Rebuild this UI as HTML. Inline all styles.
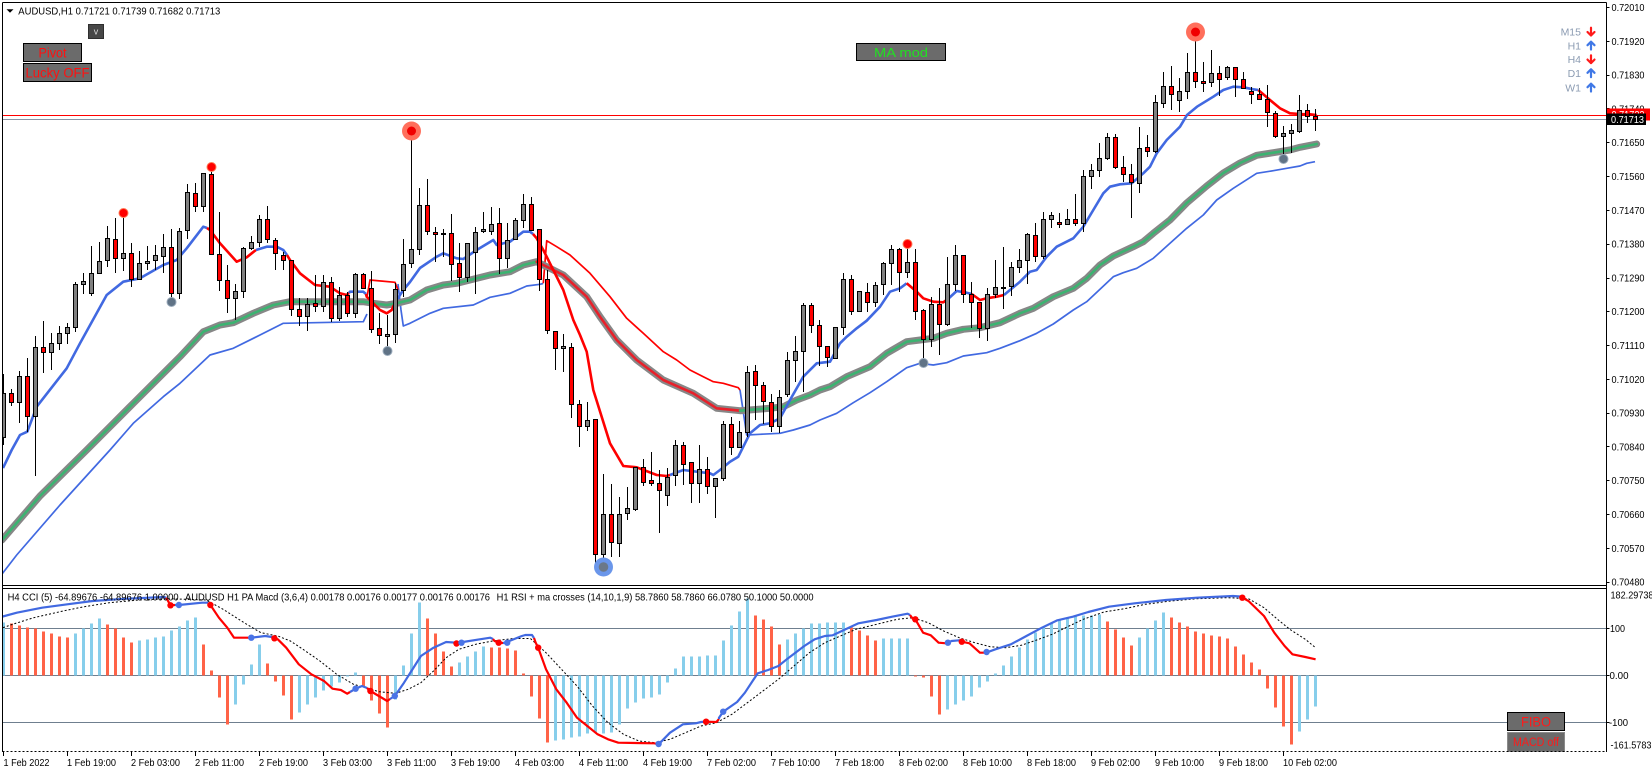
<!DOCTYPE html>
<html><head><meta charset="utf-8"><style>
html,body{margin:0;padding:0;background:#fff;}
svg{display:block;font-family:"Liberation Sans",Arial,sans-serif;}
</style></head><body>
<svg width="1652" height="773" viewBox="0 0 1652 773" xmlns="http://www.w3.org/2000/svg">
<defs>
<clipPath id="cm"><rect x="3" y="3" width="1603" height="582"/></clipPath>
<clipPath id="cs"><rect x="3" y="589" width="1603" height="162"/></clipPath>
</defs>
<rect width="1652" height="773" fill="#fff"/>

<!-- ========== MAIN CHART ========== -->
<g clip-path="url(#cm)">
<!-- bid/ask lines -->
<line x1="3" y1="115.5" x2="1606" y2="115.5" stroke="#ff0000" stroke-width="1"/>
<line x1="3" y1="119.5" x2="1606" y2="119.5" stroke="#8795a5" stroke-width="1"/>

<!-- thin lower blue band -->
<g fill="none" stroke="#4169e1" stroke-width="1.7" stroke-linejoin="round">
<polyline points="2,574 16.7,555 60,505 110,450 133.3,423.3 163.3,396.7 180,383.3 210,355 233.3,348.3 260,335 283.3,323.3 363.3,321.7 367,314"/>
<polyline points="398,284 401,310 403.3,326 410,323.3 430,313.3 443.3,308.3 473.3,305 490,297.3 510,293.3 526.7,286 540,284.3 543,283.5"/>
<polyline points="740,390 743,410 746.7,435 760,434.3 780,433.3 793.3,430 810,425 820,420 836.7,413.3 853.3,402.7 870,392.7 886.7,381.7 906.7,367.7 920,363.3 933.3,365 946.7,362.7 963.3,356 986.7,352.7 1000,348.3 1020,340.7 1036.7,333.3 1053.3,324 1073.3,310 1086.7,301.7 1100,289.3 1113.3,276.7 1123.3,272.7 1136.7,268.3 1153.3,258.3 1170,243.3 1186.7,228.3 1203.3,215 1216.7,200 1233.3,188.3 1256.7,173.3 1273.3,170.7 1286.7,168.3 1300,166 1306.7,163.3 1315,161.7"/>
</g>
<!-- thin upper red band -->
<g fill="none" stroke="#ff0000" stroke-width="1.7" stroke-linejoin="round">
<polyline points="367,297 370,280 395,282.3 398,290"/>
<polyline points="543.3,283.3 546.7,240.7 556.7,246.7 570,255 590,273.3 610,296.7 626.7,318.3 643.3,333.3 663.3,351.7 676.7,360 690,370 703.3,376.7 713.3,381.7 723.3,383.3 738.3,387.7 740,390"/>
</g>

<!-- thick MA -->
<g fill="none" stroke-linejoin="round" stroke-linecap="round">
<polyline stroke="#878787" stroke-width="7" points="2,540 40,496 86.7,450 110,426.7 133.3,403.3 166.7,370 180,356.7 203.3,331.7 220,325 233.3,322.7 253.3,313.3 273.3,305 290,301.7 333.3,301.7 363.3,301.7 373.3,303.3 386.7,305 396.7,303.3 410,300 426.7,290 443.3,285 456.7,283.3 470,280 490,275 510,271.7 523.3,265 536.7,261.7 543.3,265 563.3,275 586.7,296.7 600,316.7 616.7,340 636.7,360 663.3,380 693.3,393.3 716.7,408.3 740,410.7 770,408.3 783.3,406.7 796.7,400 810,395 820,390 830,386.7 846.7,376.7 870,366.7 886.7,353.3 906.7,341.7 920,340 933.3,338.3 946.7,333.3 963.3,329.3 980,327.7 1000,322.7 1020,313.3 1033.3,308.3 1053.3,296.7 1073.3,288.3 1086.7,278.3 1100,265 1113.3,256 1133.3,246.7 1143.3,241.7 1153.3,233.3 1170,220 1186.7,203 1206.7,186 1223.3,173 1240,163 1256.7,155.3 1273.3,152.7 1290,150 1300,147.3 1316.7,144"/>
<polyline stroke="#3cb371" stroke-width="2.6" points="2,540 40,496 86.7,450 110,426.7 133.3,403.3 166.7,370 180,356.7 203.3,331.7 220,325 233.3,322.7 253.3,313.3 273.3,305 290,301.7 333.3,301.7 363.3,301.7 373.3,303.3 386.7,305 396.7,303.3 410,300 426.7,290 443.3,285 456.7,283.3 470,280 490,275 510,271.7 523.3,265 536.7,261.7"/>
<polyline stroke="#e8202a" stroke-width="2.6" points="536.7,261.7 543.3,265 563.3,275 586.7,296.7 600,316.7 616.7,340 636.7,360 663.3,380 693.3,393.3 716.7,408.3 740,410.7"/>
<polyline stroke="#3cb371" stroke-width="2.6" points="740,410.7 770,408.3 783.3,406.7 796.7,400 810,395 820,390 830,386.7 846.7,376.7 870,366.7 886.7,353.3 906.7,341.7 920,340 933.3,338.3 946.7,333.3 963.3,329.3 980,327.7 1000,322.7 1020,313.3 1033.3,308.3 1053.3,296.7 1073.3,288.3 1086.7,278.3 1100,265 1113.3,256 1133.3,246.7 1143.3,241.7 1153.3,233.3 1170,220 1186.7,203 1206.7,186 1223.3,173 1240,163 1256.7,155.3 1273.3,152.7 1290,150 1300,147.3 1316.7,144"/>
</g>

<!-- fast line -->
<g fill="none" stroke-width="2.6" stroke-linejoin="round">
<polyline stroke="#4169e1" points="3,468 11.7,450 20,435 27.3,431.7 36.7,406.7 66.7,368.3 80,343.3 106.7,295 123.3,281.7 140,278.3 163.3,265 176.7,260 186.7,248.3 203.3,226.7 207,228"/>
<polyline stroke="#ff0000" points="207,228 210,230 220,243.3 236.7,261.7 246.7,257.3 251.7,253.3 256,250"/>
<polyline stroke="#4169e1" points="256,250 266.7,246.7 276.7,246.7 283.3,250 287,255"/>
<polyline stroke="#ff0000" points="287,255 290,260 300,273.3 315,285 330,286.7 340,293.3 346.7,295 349,293"/>
<polyline stroke="#4169e1" points="349,293 350,291.7 363.3,291.7 366,294"/>
<polyline stroke="#ff0000" points="366,294 366.7,296.7 380,310 386.7,313.3 391.7,310 394,305"/>
<polyline stroke="#4169e1" points="394,305 396.7,300 403.3,290 410,282 420,268 436.7,256.7 443.3,253.3 456.7,258.3 463.3,259 476.7,250 493.3,240 496.7,245 510,241.7 523.3,231.7 530,231.7 533,234"/>
<polyline stroke="#ff0000" points="533,234 536.7,238.3 543.3,250 553.3,270 563.3,290 573.3,320 580,335 586.7,351.7 593.3,390 610,443.3 623.3,466 636.7,467.3 656.7,475 666.7,476 670,475"/>
<polyline stroke="#4169e1" points="670,475 683.3,470 710,473.3 713.3,475 720,470 730,461.7 738.3,456.7 743.3,446.7 750,433.3 760,425 770,423.3 780,418.3 790,400 803.3,376.7 816.7,363.3 830,361.7 840,343.3 846.7,336.7 856.7,328.3 866.7,320.7 880,306.7 890,291.7 900,288.3 906.7,283.3"/>
<polyline stroke="#ff0000" points="906.7,283.3 916.7,291.7 923.3,298.3 933.3,301.7 943.3,302.3 948,299"/>
<polyline stroke="#4169e1" points="948,299 956.7,291 966.7,292.7 971.7,294"/>
<polyline stroke="#ff0000" points="971.7,294 980,300 986.7,298.3 996.7,296.7 1004,295"/>
<polyline stroke="#4169e1" points="1004,295 1020,281.7 1030,271.7 1036.7,270 1046.7,256.7 1056.7,246.7 1073.3,238.3 1083.3,226.7 1093.3,210 1103.3,193.3 1110,186.7 1120,184.3 1131.7,183.3 1143.3,173.3 1150,166.7 1156.7,153.3 1166.7,140 1180,126.7 1187,115 1197,106.7 1213.3,96.7 1223.3,90 1233.3,86.7 1243.3,87.3 1253.3,89.3 1258.3,90"/>
<polyline stroke="#ff0000" points="1258.3,90 1270,100 1280,108.3 1290,113.3 1300,114 1310,114.3 1316.7,115"/>
</g>

<!-- wicks -->
<path fill="none" stroke="#000" stroke-width="1" d="M3.5 374V445M11.5 389V406M19.5 371V423M27.5 358V432M35.5 336V476M43.5 321V373M51.5 333V370M59.5 326V350M67.5 323V344M75.5 282V332M83.5 273V294M91.5 246V296M99.5 242V273M107.5 226V267M115.5 218V273M123.5 213V271M131.5 243V287M139.5 251V279M147.5 246V270M155.5 245V270M163.5 234V273M171.5 229V298M179.5 228V299M187.5 184V239M195.5 183V212M203.5 173V212M211.5 167V254M219.5 212V291M227.5 265V313M235.5 284V320M243.5 247V298M251.5 236V250M259.5 215V247M267.5 206V243M275.5 238V270M283.5 252V270M291.5 260V316M299.5 298V326M307.5 298V331M315.5 275V312M323.5 275V312M331.5 277V322M339.5 287V321M347.5 292V317M355.5 273V318M363.5 273V289M371.5 271V333M379.5 313V344M387.5 315V347M395.5 283V343M403.5 239V297M411.5 131V268M419.5 188V255M427.5 179V235M435.5 227V262M443.5 229V257M451.5 214V281M459.5 243V292M467.5 243V282M475.5 227V294M483.5 212V233M491.5 207V235M499.5 208V274M507.5 223V268M515.5 218V240M523.5 194V228M531.5 197V231M539.5 229V291M547.5 270V334M555.5 331V370M563.5 334V372M571.5 343V418M579.5 400V447M587.5 402V431M595.5 419V563M603.5 474V568M611.5 484V557M619.5 497V557M627.5 487V520M635.5 467V511M643.5 459V486M651.5 452V486M659.5 470V533M667.5 468V506M675.5 440V486M683.5 442V485M691.5 462V503M699.5 445V503M707.5 457V494M715.5 478V518M723.5 421V481M731.5 417V455M739.5 421V448M747.5 366V437M755.5 365V420M763.5 382V424M771.5 394V432M779.5 390V433M787.5 352V397M795.5 336V382M803.5 303V392M811.5 303V333M819.5 320V366M827.5 346V367M835.5 327V359M843.5 273V335M851.5 275V315M859.5 291V312M867.5 283V312M875.5 282V307M883.5 262V295M891.5 245V285M899.5 248V292M907.5 244V278M915.5 249V320M923.5 309V363M931.5 297V347M939.5 288V355M947.5 257V326M955.5 245V291M963.5 255V303M971.5 282V328M979.5 302V338M987.5 288V341M995.5 260V298M1003.5 247V309M1011.5 262V296M1019.5 249V273M1027.5 233V284M1035.5 223V262M1043.5 212V259M1051.5 212V228M1059.5 213V228M1067.5 209V224M1075.5 194V226M1083.5 170V232M1091.5 164V189M1099.5 143V177M1107.5 133V160M1115.5 134V169M1123.5 156V182M1131.5 164V218M1139.5 127V193M1147.5 135V157M1155.5 95V153M1163.5 72V108M1171.5 66V110M1179.5 78V112M1187.5 53V99M1195.5 32V88M1203.5 62V92M1211.5 50V87M1219.5 66V96M1227.5 66V80M1235.5 67V97M1243.5 72V88M1251.5 87V104M1259.5 88V100M1267.5 85V127M1275.5 111V138M1283.5 126V158M1291.5 124V153M1299.5 95V133M1307.5 104V123M1315.5 109V131"/>

<!-- bull bodies -->
<g fill="#808080" stroke="#000" stroke-width="1">
<rect x="1.5" y="393.5" width="4" height="44"/><rect x="17.5" y="376.5" width="4" height="26"/><rect x="33.5" y="347.5" width="4" height="69"/><rect x="49.5" y="343.5" width="4" height="9"/><rect x="57.5" y="333.5" width="4" height="10"/><rect x="65.5" y="327.5" width="4" height="6"/><rect x="73.5" y="284.5" width="4" height="43"/><rect x="81.5" y="281.5" width="4" height="3"/><rect x="89.5" y="273.5" width="4" height="20"/><rect x="97.5" y="261.5" width="4" height="12"/><rect x="105.5" y="238.5" width="4" height="22"/><rect x="121.5" y="253.5" width="4" height="5"/><rect x="137.5" y="263.5" width="4" height="16"/><rect x="145.5" y="261.5" width="4" height="2"/><rect x="153.5" y="255.5" width="4" height="5"/><rect x="161.5" y="247.5" width="4" height="9"/><rect x="177.5" y="231.5" width="4" height="62"/><rect x="185.5" y="192.5" width="4" height="38"/><rect x="201.5" y="173.5" width="4" height="33"/><rect x="233.5" y="291.5" width="4" height="7"/><rect x="241.5" y="248.5" width="4" height="43"/><rect x="249.5" y="242.5" width="4" height="6"/><rect x="257.5" y="219.5" width="4" height="23"/><rect x="305.5" y="304.5" width="4" height="12"/><rect x="321.5" y="282.5" width="4" height="24"/><rect x="337.5" y="295.5" width="4" height="23"/><rect x="353.5" y="274.5" width="4" height="39"/><rect x="385.5" y="334.5" width="4" height="2"/><rect x="393.5" y="289.5" width="4" height="45"/><rect x="401.5" y="264.5" width="4" height="26"/><rect x="409.5" y="249.5" width="4" height="14"/><rect x="417.5" y="205.5" width="4" height="44"/><rect x="441.5" y="233.5" width="4" height="1"/><rect x="465.5" y="243.5" width="4" height="34"/><rect x="473.5" y="232.5" width="4" height="20"/><rect x="481.5" y="229.5" width="4" height="2"/><rect x="489.5" y="224.5" width="4" height="7"/><rect x="505.5" y="240.5" width="4" height="18"/><rect x="513.5" y="220.5" width="4" height="19"/><rect x="521.5" y="204.5" width="4" height="16"/><rect x="561.5" y="346.5" width="4" height="2"/><rect x="585.5" y="420.5" width="4" height="6"/><rect x="601.5" y="514.5" width="4" height="40"/><rect x="617.5" y="514.5" width="4" height="29"/><rect x="625.5" y="508.5" width="4" height="5"/><rect x="633.5" y="467.5" width="4" height="42"/><rect x="665.5" y="477.5" width="4" height="18"/><rect x="673.5" y="445.5" width="4" height="30"/><rect x="697.5" y="469.5" width="4" height="14"/><rect x="713.5" y="478.5" width="4" height="8"/><rect x="721.5" y="424.5" width="4" height="54"/><rect x="737.5" y="432.5" width="4" height="15"/><rect x="745.5" y="372.5" width="4" height="60"/><rect x="777.5" y="397.5" width="4" height="29"/><rect x="785.5" y="360.5" width="4" height="34"/><rect x="793.5" y="351.5" width="4" height="9"/><rect x="801.5" y="305.5" width="4" height="46"/><rect x="833.5" y="327.5" width="4" height="31"/><rect x="841.5" y="279.5" width="4" height="48"/><rect x="857.5" y="291.5" width="4" height="20"/><rect x="873.5" y="285.5" width="4" height="17"/><rect x="881.5" y="263.5" width="4" height="21"/><rect x="889.5" y="249.5" width="4" height="14"/><rect x="905.5" y="262.5" width="4" height="10"/><rect x="929.5" y="304.5" width="4" height="35"/><rect x="945.5" y="284.5" width="4" height="40"/><rect x="953.5" y="255.5" width="4" height="29"/><rect x="985.5" y="294.5" width="4" height="34"/><rect x="993.5" y="287.5" width="4" height="7"/><rect x="1001.5" y="287.5" width="4" height="1"/><rect x="1009.5" y="267.5" width="4" height="19"/><rect x="1017.5" y="260.5" width="4" height="7"/><rect x="1025.5" y="234.5" width="4" height="26"/><rect x="1041.5" y="219.5" width="4" height="37"/><rect x="1049.5" y="215.5" width="4" height="4"/><rect x="1065.5" y="219.5" width="4" height="5"/><rect x="1081.5" y="176.5" width="4" height="47"/><rect x="1089.5" y="170.5" width="4" height="6"/><rect x="1097.5" y="158.5" width="4" height="12"/><rect x="1105.5" y="137.5" width="4" height="21"/><rect x="1137.5" y="148.5" width="4" height="35"/><rect x="1153.5" y="102.5" width="4" height="49"/><rect x="1161.5" y="86.5" width="4" height="17"/><rect x="1177.5" y="91.5" width="4" height="9"/><rect x="1185.5" y="72.5" width="4" height="19"/><rect x="1209.5" y="73.5" width="4" height="9"/><rect x="1225.5" y="67.5" width="4" height="10"/><rect x="1281.5" y="133.5" width="4" height="3"/><rect x="1289.5" y="130.5" width="4" height="3"/><rect x="1297.5" y="110.5" width="4" height="21"/>
</g>
<!-- bear bodies -->
<g fill="#ff0000" stroke="#000" stroke-width="1">
<rect x="9.5" y="393.5" width="4" height="9"/><rect x="25.5" y="376.5" width="4" height="40"/><rect x="41.5" y="347.5" width="4" height="5"/><rect x="113.5" y="239.5" width="4" height="19"/><rect x="129.5" y="253.5" width="4" height="26"/><rect x="169.5" y="247.5" width="4" height="46"/><rect x="193.5" y="193.5" width="4" height="13"/><rect x="209.5" y="174.5" width="4" height="80"/><rect x="217.5" y="254.5" width="4" height="26"/><rect x="225.5" y="280.5" width="4" height="18"/><rect x="265.5" y="219.5" width="4" height="20"/><rect x="273.5" y="240.5" width="4" height="13"/><rect x="281.5" y="255.5" width="4" height="5"/><rect x="289.5" y="260.5" width="4" height="49"/><rect x="297.5" y="309.5" width="4" height="7"/><rect x="313.5" y="303.5" width="4" height="3"/><rect x="329.5" y="282.5" width="4" height="36"/><rect x="345.5" y="295.5" width="4" height="18"/><rect x="361.5" y="274.5" width="4" height="14"/><rect x="369.5" y="288.5" width="4" height="41"/><rect x="377.5" y="328.5" width="4" height="7"/><rect x="425.5" y="205.5" width="4" height="26"/><rect x="433.5" y="232.5" width="4" height="2"/><rect x="449.5" y="233.5" width="4" height="31"/><rect x="457.5" y="263.5" width="4" height="14"/><rect x="497.5" y="223.5" width="4" height="35"/><rect x="529.5" y="204.5" width="4" height="26"/><rect x="537.5" y="229.5" width="4" height="50"/><rect x="545.5" y="279.5" width="4" height="51"/><rect x="553.5" y="331.5" width="4" height="17"/><rect x="569.5" y="347.5" width="4" height="57"/><rect x="577.5" y="404.5" width="4" height="22"/><rect x="593.5" y="419.5" width="4" height="135"/><rect x="609.5" y="514.5" width="4" height="28"/><rect x="641.5" y="467.5" width="4" height="15"/><rect x="649.5" y="480.5" width="4" height="3"/><rect x="657.5" y="483.5" width="4" height="7"/><rect x="681.5" y="445.5" width="4" height="19"/><rect x="689.5" y="462.5" width="4" height="21"/><rect x="705.5" y="469.5" width="4" height="17"/><rect x="729.5" y="424.5" width="4" height="23"/><rect x="753.5" y="371.5" width="4" height="14"/><rect x="761.5" y="385.5" width="4" height="16"/><rect x="769.5" y="402.5" width="4" height="24"/><rect x="809.5" y="305.5" width="4" height="20"/><rect x="817.5" y="325.5" width="4" height="21"/><rect x="825.5" y="346.5" width="4" height="11"/><rect x="849.5" y="279.5" width="4" height="32"/><rect x="865.5" y="292.5" width="4" height="10"/><rect x="897.5" y="249.5" width="4" height="23"/><rect x="913.5" y="262.5" width="4" height="49"/><rect x="921.5" y="310.5" width="4" height="29"/><rect x="937.5" y="304.5" width="4" height="20"/><rect x="961.5" y="255.5" width="4" height="39"/><rect x="969.5" y="294.5" width="4" height="8"/><rect x="977.5" y="302.5" width="4" height="26"/><rect x="1033.5" y="235.5" width="4" height="21"/><rect x="1057.5" y="222.5" width="4" height="2"/><rect x="1073.5" y="219.5" width="4" height="4"/><rect x="1113.5" y="137.5" width="4" height="30"/><rect x="1121.5" y="167.5" width="4" height="7"/><rect x="1129.5" y="174.5" width="4" height="8"/><rect x="1145.5" y="147.5" width="4" height="4"/><rect x="1169.5" y="86.5" width="4" height="8"/><rect x="1193.5" y="72.5" width="4" height="9"/><rect x="1201.5" y="81.5" width="4" height="2"/><rect x="1217.5" y="73.5" width="4" height="6"/><rect x="1233.5" y="67.5" width="4" height="12"/><rect x="1241.5" y="79.5" width="4" height="9"/><rect x="1249.5" y="91.5" width="4" height="3"/><rect x="1257.5" y="94.5" width="4" height="5"/><rect x="1265.5" y="99.5" width="4" height="13"/><rect x="1273.5" y="113.5" width="4" height="23"/><rect x="1305.5" y="110.5" width="4" height="6"/><rect x="1313.5" y="116.5" width="4" height="3"/>
</g>

<!-- markers -->
<g>
<circle cx="123.5" cy="213" r="4.5" fill="#ff0000" stroke="#ff7a55" stroke-width="1"/>
<circle cx="211.5" cy="167" r="4.5" fill="#ff0000" stroke="#ff7a55" stroke-width="1"/>
<circle cx="907.5" cy="244" r="4.5" fill="#ff0000" stroke="#ff7a55" stroke-width="1"/>
<circle cx="411.5" cy="131" r="9.5" fill="#ff6f5c"/><circle cx="411.5" cy="131" r="4.5" fill="#f00000"/>
<circle cx="1195.5" cy="32" r="9.5" fill="#ff6f5c"/><circle cx="1195.5" cy="32" r="4.5" fill="#f00000"/>
<circle cx="171.5" cy="302" r="4.5" fill="#607386" stroke="#9aabbc" stroke-width="1"/>
<circle cx="387.5" cy="351" r="4.5" fill="#607386" stroke="#9aabbc" stroke-width="1"/>
<circle cx="923.5" cy="363" r="4.5" fill="#607386" stroke="#9aabbc" stroke-width="1"/>
<circle cx="1283.5" cy="159" r="4.5" fill="#607386" stroke="#9aabbc" stroke-width="1"/>
<circle cx="603.5" cy="567" r="9.5" fill="#6a96ea"/><circle cx="603.5" cy="567" r="4.8" fill="#6b7888"/>
</g>
</g>

<!-- header -->
<path d="M6.5 9.3H13.5L10 12.8Z" fill="#000"/>
<text x="18.3" y="14.5" font-size="10.5" fill="#000" textLength="202" lengthAdjust="spacingAndGlyphs">AUDUSD,H1  0.71721 0.71739 0.71682 0.71713</text>

<!-- buttons -->
<rect x="88.5" y="24.5" width="15" height="14" fill="#474747" stroke="#2e2e2e"/>
<text x="96" y="34.5" font-size="9" fill="#dcdcdc" text-anchor="middle">v</text>
<rect x="23.5" y="43.5" width="58" height="18" fill="#6b6b6b" stroke="#000"/>
<text x="52.5" y="57.5" font-size="13.5" fill="#ff1010" text-anchor="middle" textLength="28" lengthAdjust="spacingAndGlyphs">Pivot</text>
<rect x="23.5" y="63.5" width="68" height="18" fill="#6b6b6b" stroke="#000"/>
<text x="57.5" y="77.5" font-size="13.5" fill="#ff1010" text-anchor="middle" textLength="64" lengthAdjust="spacingAndGlyphs">Lucky OFF</text>
<rect x="856.5" y="43.5" width="89" height="17" fill="#6b6b6b" stroke="#000"/>
<text x="901" y="57" font-size="13" fill="#22e022" text-anchor="middle" textLength="54" lengthAdjust="spacingAndGlyphs">MA mod</text>

<!-- timeframe indicators -->
<g font-size="10.5" fill="#8b9bb2" text-anchor="end">
<text x="1581" y="35.5">M15</text>
<text x="1581" y="49.5">H1</text>
<text x="1581" y="63">H4</text>
<text x="1581" y="77">D1</text>
<text x="1581" y="91.5">W1</text>
</g>
<g fill="none" stroke-width="2.2" stroke-linecap="round" stroke-linejoin="round">
<path d="M1591 27.7V35.5M1587.5 32L1591 35.5L1594.5 32" stroke="#ff1a1a"/>
<path d="M1591 41.7V49.5M1587.5 45.2L1591 41.7L1594.5 45.2" stroke="#4078e6"/>
<path d="M1591 55.3V63.1M1587.5 59.6L1591 63.1L1594.5 59.6" stroke="#ff1a1a"/>
<path d="M1591 69.3V77.1M1587.5 72.8L1591 69.3L1594.5 72.8" stroke="#4078e6"/>
<path d="M1591 83.7V91.5M1587.5 87.2L1591 83.7L1594.5 87.2" stroke="#4078e6"/>
</g>

<!-- ========== SUBWINDOW ========== -->
<g stroke="#6f7f8f" stroke-width="1">
<line x1="3" y1="628.5" x2="1606" y2="628.5"/>
<line x1="3" y1="675.5" x2="1606" y2="675.5"/>
<line x1="3" y1="722.5" x2="1606" y2="722.5"/>
</g>
<g clip-path="url(#cs)">
<!-- histogram blue -->
<g fill="#87ceeb">
<rect x="2" y="622.5" width="3" height="53"/><rect x="74" y="633.5" width="3" height="42"/><rect x="82" y="628.5" width="3" height="47"/><rect x="90" y="623.5" width="3" height="52"/><rect x="98" y="618.5" width="3" height="57"/><rect x="138" y="640.5" width="3" height="35"/><rect x="146" y="639.5" width="3" height="36"/><rect x="154" y="637.5" width="3" height="38"/><rect x="162" y="636.5" width="3" height="39"/><rect x="170" y="630.5" width="3" height="45"/><rect x="178" y="626.5" width="3" height="49"/><rect x="186" y="620.5" width="3" height="55"/><rect x="194" y="617.5" width="3" height="58"/><rect x="234" y="675.5" width="3" height="29"/><rect x="242" y="675.5" width="3" height="9"/><rect x="250" y="664.5" width="3" height="11"/><rect x="258" y="644.5" width="3" height="31"/><rect x="298" y="675.5" width="3" height="37"/><rect x="306" y="675.5" width="3" height="29"/><rect x="314" y="675.5" width="3" height="22"/><rect x="322" y="675.5" width="3" height="15"/><rect x="330" y="675.5" width="3" height="11"/><rect x="338" y="675.5" width="3" height="7"/><rect x="346" y="675.5" width="3" height="1"/><rect x="354" y="672.5" width="3" height="3"/><rect x="394" y="675.5" width="3" height="24"/><rect x="402" y="665.5" width="3" height="10"/><rect x="410" y="633.5" width="3" height="42"/><rect x="418" y="602.5" width="3" height="73"/><rect x="458" y="662.5" width="3" height="13"/><rect x="466" y="656.5" width="3" height="19"/><rect x="474" y="651.5" width="3" height="24"/><rect x="482" y="646.5" width="3" height="29"/><rect x="554" y="675.5" width="3" height="65"/><rect x="562" y="675.5" width="3" height="64"/><rect x="570" y="675.5" width="3" height="62"/><rect x="578" y="675.5" width="3" height="61"/><rect x="586" y="675.5" width="3" height="58"/><rect x="594" y="675.5" width="3" height="57"/><rect x="602" y="675.5" width="3" height="58"/><rect x="610" y="675.5" width="3" height="57"/><rect x="618" y="675.5" width="3" height="49"/><rect x="626" y="675.5" width="3" height="33"/><rect x="634" y="675.5" width="3" height="27"/><rect x="642" y="675.5" width="3" height="23"/><rect x="650" y="675.5" width="3" height="22"/><rect x="658" y="675.5" width="3" height="19"/><rect x="666" y="675.5" width="3" height="7"/><rect x="674" y="668.5" width="3" height="7"/><rect x="682" y="656.5" width="3" height="19"/><rect x="690" y="656.5" width="3" height="19"/><rect x="698" y="656.5" width="3" height="19"/><rect x="706" y="655.5" width="3" height="20"/><rect x="714" y="655.5" width="3" height="20"/><rect x="722" y="640.5" width="3" height="35"/><rect x="730" y="625.5" width="3" height="50"/><rect x="738" y="611.5" width="3" height="64"/><rect x="746" y="598.5" width="3" height="77"/><rect x="786" y="639.5" width="3" height="36"/><rect x="794" y="633.5" width="3" height="42"/><rect x="802" y="628.5" width="3" height="47"/><rect x="810" y="623.5" width="3" height="52"/><rect x="818" y="623.5" width="3" height="52"/><rect x="826" y="622.5" width="3" height="53"/><rect x="834" y="622.5" width="3" height="53"/><rect x="842" y="622.5" width="3" height="53"/><rect x="882" y="638.5" width="3" height="37"/><rect x="890" y="638.5" width="3" height="37"/><rect x="898" y="638.5" width="3" height="37"/><rect x="906" y="638.5" width="3" height="37"/><rect x="946" y="675.5" width="3" height="34"/><rect x="954" y="675.5" width="3" height="29"/><rect x="962" y="675.5" width="3" height="25"/><rect x="970" y="675.5" width="3" height="21"/><rect x="978" y="675.5" width="3" height="12"/><rect x="986" y="675.5" width="3" height="6"/><rect x="994" y="673.5" width="3" height="2"/><rect x="1002" y="665.5" width="3" height="10"/><rect x="1010" y="656.5" width="3" height="19"/><rect x="1018" y="647.5" width="3" height="28"/><rect x="1026" y="639.5" width="3" height="36"/><rect x="1034" y="632.5" width="3" height="43"/><rect x="1042" y="626.5" width="3" height="49"/><rect x="1050" y="622.5" width="3" height="53"/><rect x="1058" y="619.5" width="3" height="56"/><rect x="1066" y="617.5" width="3" height="58"/><rect x="1074" y="616.5" width="3" height="59"/><rect x="1082" y="615.5" width="3" height="60"/><rect x="1090" y="615.5" width="3" height="60"/><rect x="1098" y="614.5" width="3" height="61"/><rect x="1138" y="637.5" width="3" height="38"/><rect x="1146" y="628.5" width="3" height="47"/><rect x="1154" y="620.5" width="3" height="55"/><rect x="1162" y="612.5" width="3" height="63"/><rect x="1298" y="675.5" width="3" height="56"/><rect x="1306" y="675.5" width="3" height="44"/><rect x="1314" y="675.5" width="3" height="31"/>
</g>
<!-- histogram red -->
<g fill="#ff6347">
<rect x="10" y="623.5" width="3" height="52"/><rect x="18" y="625.5" width="3" height="50"/><rect x="26" y="627.5" width="3" height="48"/><rect x="34" y="628.5" width="3" height="47"/><rect x="42" y="631.5" width="3" height="44"/><rect x="50" y="633.5" width="3" height="42"/><rect x="58" y="636.5" width="3" height="39"/><rect x="66" y="637.5" width="3" height="38"/><rect x="106" y="624.5" width="3" height="51"/><rect x="114" y="628.5" width="3" height="47"/><rect x="122" y="637.5" width="3" height="38"/><rect x="130" y="642.5" width="3" height="33"/><rect x="202" y="644.5" width="3" height="31"/><rect x="210" y="670.5" width="3" height="5"/><rect x="218" y="675.5" width="3" height="22"/><rect x="226" y="675.5" width="3" height="49"/><rect x="266" y="663.5" width="3" height="12"/><rect x="274" y="675.5" width="3" height="6"/><rect x="282" y="675.5" width="3" height="20"/><rect x="290" y="675.5" width="3" height="44"/><rect x="362" y="675.5" width="3" height="11"/><rect x="370" y="675.5" width="3" height="25"/><rect x="378" y="675.5" width="3" height="38"/><rect x="386" y="675.5" width="3" height="52"/><rect x="426" y="618.5" width="3" height="57"/><rect x="434" y="633.5" width="3" height="42"/><rect x="442" y="651.5" width="3" height="24"/><rect x="450" y="666.5" width="3" height="9"/><rect x="490" y="647.5" width="3" height="28"/><rect x="498" y="647.5" width="3" height="28"/><rect x="506" y="648.5" width="3" height="27"/><rect x="514" y="650.5" width="3" height="25"/><rect x="522" y="673.5" width="3" height="2"/><rect x="530" y="675.5" width="3" height="21"/><rect x="538" y="675.5" width="3" height="43"/><rect x="546" y="675.5" width="3" height="67"/><rect x="754" y="615.5" width="3" height="60"/><rect x="762" y="619.5" width="3" height="56"/><rect x="770" y="626.5" width="3" height="49"/><rect x="778" y="644.5" width="3" height="31"/><rect x="850" y="627.5" width="3" height="48"/><rect x="858" y="630.5" width="3" height="45"/><rect x="866" y="635.5" width="3" height="40"/><rect x="874" y="640.5" width="3" height="35"/><rect x="914" y="675.5" width="3" height="1"/><rect x="922" y="675.5" width="3" height="2"/><rect x="930" y="675.5" width="3" height="21"/><rect x="938" y="675.5" width="3" height="39"/><rect x="1106" y="621.5" width="3" height="54"/><rect x="1114" y="629.5" width="3" height="46"/><rect x="1122" y="637.5" width="3" height="38"/><rect x="1130" y="645.5" width="3" height="30"/><rect x="1170" y="617.5" width="3" height="58"/><rect x="1178" y="622.5" width="3" height="53"/><rect x="1186" y="626.5" width="3" height="49"/><rect x="1194" y="631.5" width="3" height="44"/><rect x="1202" y="633.5" width="3" height="42"/><rect x="1210" y="635.5" width="3" height="40"/><rect x="1218" y="636.5" width="3" height="39"/><rect x="1226" y="638.5" width="3" height="37"/><rect x="1234" y="646.5" width="3" height="29"/><rect x="1242" y="654.5" width="3" height="21"/><rect x="1250" y="662.5" width="3" height="13"/><rect x="1258" y="669.5" width="3" height="6"/><rect x="1266" y="675.5" width="3" height="13"/><rect x="1274" y="675.5" width="3" height="32"/><rect x="1282" y="675.5" width="3" height="51"/><rect x="1290" y="675.5" width="3" height="69"/>
</g>

<!-- dashed signal -->
<polyline fill="none" stroke="#000" stroke-width="1" stroke-dasharray="2,2" points="3,627.7 12.6,624.3 33.7,617.7 63.1,611 84.2,606.7 109.4,602.7 138.9,600 168.4,598.7 185.2,599.3 206.2,600 223.1,609.3 244.1,622.7 260.9,632.7 277.8,636 290.4,641 303,649.3 319.9,661 336.7,674.3 353.5,684.3 366.2,687.7 378.8,691.7 395.6,693.3 408.2,689.3 420.9,682.7 433.5,671 446.1,657.7 458.8,649.3 475.6,644.3 492.4,641 513.5,638.5 530.4,638.5 546,652.7 561.5,669.3 577,686 592.5,706 608,722.7 623.5,734.3 639,741 654.5,742.7 670,739.3 685.5,732.7 701,726 716.4,722.7 731.9,714.3 747.4,702.7 762.9,691 778.4,679.3 793.9,666 809.4,652.7 824.9,642.7 840.4,636 855.9,629.3 876.6,624.3 897.2,619.3 912.7,617.7 928.2,622.7 943.7,631 959.2,637.7 974.7,642.7 990.2,646.7 1005.7,647.7 1021.2,645.3 1036.7,640 1052.2,634.3 1067.7,626.7 1083.2,619.3 1103.9,612 1124.5,608.7 1145.2,604.3 1171,601 1196.8,598.7 1227.8,597.7 1248.5,598.7 1264,607.7 1279.5,621 1289.8,629.3 1305.3,639.3 1315.6,647.7"/>

<!-- RSI line -->
<g fill="none" stroke-width="2.2" stroke-linejoin="round">
<polyline stroke="#4169e1" points="2,616.7 16.8,612.7 42.1,607.7 67.3,604.3 92.6,601 126.3,598.7 164.1,597 166.2,597.7"/>
<polyline stroke="#ff0000" points="166.2,597.7 170.5,605.3 175,605"/>
<polyline stroke="#4169e1" points="175,605 178.9,605 202,602.7 208.3,602.7"/>
<polyline stroke="#ff0000" points="208.3,602.7 210.4,605 218.9,617.7 227.3,627.7 234,637.7 248.3,637.7 251,637.7"/>
<polyline stroke="#4169e1" points="251,637.7 265.2,636 272,637"/>
<polyline stroke="#ff0000" points="272,637 274.4,638.3 277.8,639.3 286.2,647.7 298.8,664.3 311.4,674.3 324.1,681 332.5,688.7 340.9,690 347.2,693.7 350,692"/>
<polyline stroke="#4169e1" points="350,692 355.6,688.7 362,686 367,688"/>
<polyline stroke="#ff0000" points="367,688 370.4,691 378.8,696 387.2,701 390,699"/>
<polyline stroke="#4169e1" points="390,699 394.8,696 404,682.7 414.6,666 420.9,656 433.5,647.7 446.1,642 456.6,642.7"/>
<polyline stroke="#ff0000" points="456.6,642.7 458,644 461,643"/>
<polyline stroke="#4169e1" points="461,643 463,642 479.8,639.3 490.3,637.7 493,639"/>
<polyline stroke="#ff0000" points="493,639 494.5,641 498.7,642.7 503,643"/>
<polyline stroke="#4169e1" points="503,643 507.2,642.7 509.3,641 521.9,636 525.3,635 532,635 534,638"/>
<polyline stroke="#ff0000" points="534,638 535.7,642.7 538.2,647.7 546,669.3 556.3,689.3 566.7,702.7 577,717.7 587.3,726 597.6,734.3 608,739.3 618.3,742.7 654.5,743.3 657,744"/>
<polyline stroke="#4169e1" points="657,744 659.6,743.3 670,732.7 682.9,724.3 695.8,723.3 701,722 704,721.7"/>
<polyline stroke="#ff0000" points="704,721.7 706.1,721.7 716.4,722 719,719"/>
<polyline stroke="#4169e1" points="719,719 719,717.7 723.2,711.7 737.1,702 744.9,692.7 752.6,681 757.8,673.3 768.1,670 778.4,666 788.8,657.7 804.3,646 814.6,639.3 824.9,636 832.7,635.3 845.6,629.3 858.5,623.3 876.6,620 892.1,616.7 907.6,613.7 910,615"/>
<polyline stroke="#ff0000" points="910,615 912.7,618.7 915.3,619.3 923.1,632.7 930.8,635.3 938.6,642.7 946.3,643.3"/>
<polyline stroke="#4169e1" points="946.3,643.3 947.9,642.7 951.5,641 959.2,640.3 961,641"/>
<polyline stroke="#ff0000" points="961,641 961.8,641.7 969.5,643.3 979.9,652.7 986,652.7"/>
<polyline stroke="#4169e1" points="986,652.7 995.4,649.3 1010.9,644.3 1026.4,636 1041.9,627.7 1057.4,620.3 1072.9,616.7 1088.3,612 1109,606.7 1134.8,603.3 1165.8,600 1196.8,597.7 1233,596 1240,596.5"/>
<polyline stroke="#ff0000" points="1240,596.5 1242.3,597.7 1248.5,601 1264,616 1274.3,632.7 1284.6,646 1292.4,654.3 1305.3,657 1315.6,659.3"/>
</g>
<g fill="#ff0000">
<circle cx="170.5" cy="605.3" r="3.2"/><circle cx="210.4" cy="605" r="3.2"/><circle cx="274.4" cy="638.3" r="3.2"/><circle cx="370.4" cy="691" r="3.2"/><circle cx="456.5" cy="643.5" r="3.2"/><circle cx="498.7" cy="642.7" r="3.2"/><circle cx="538.2" cy="647.7" r="3.2"/><circle cx="706.1" cy="721.7" r="3.2"/><circle cx="915.3" cy="619.3" r="3.2"/><circle cx="961.8" cy="641.7" r="3.2"/><circle cx="1242.3" cy="597.7" r="3.2"/>
</g>
<g fill="#4a74e6">
<circle cx="178.9" cy="605" r="3.2"/><circle cx="251.3" cy="637.7" r="3.2"/><circle cx="355.6" cy="688.7" r="3.2"/><circle cx="394.8" cy="696" r="3.2"/><circle cx="461.5" cy="642.7" r="3.2"/><circle cx="507.2" cy="642.7" r="3.2"/><circle cx="658.6" cy="744" r="3.2"/><circle cx="723.2" cy="711.7" r="3.2"/><circle cx="947.9" cy="642.7" r="3.2"/><circle cx="986.6" cy="652" r="3.2"/>
</g>
</g>

<!-- subwindow header -->
<g font-size="10.5" fill="#000">
<text x="7.6" y="600.5" textLength="171" lengthAdjust="spacingAndGlyphs">H4 CCI (5) -64.89676 -64.89676 1.00000</text>
<text x="185" y="600.5" textLength="305" lengthAdjust="spacingAndGlyphs">AUDUSD H1 PA Macd (3,6,4) 0.00178 0.00176 0.00177 0.00176 0.00176</text>
<text x="496.6" y="600.5" textLength="317" lengthAdjust="spacingAndGlyphs">H1 RSI + ma crosses (14,10,1,9) 58.7860 58.7860 66.0780 50.1000 50.0000</text>
</g>

<!-- FIBO / MACD off -->
<rect x="1507.5" y="712.5" width="57" height="18" fill="#6b6b6b" stroke="#000"/>
<text x="1536" y="726.5" font-size="13.5" fill="#ff1a1a" text-anchor="middle" textLength="30" lengthAdjust="spacingAndGlyphs">FIBO</text>
<rect x="1507.5" y="732.5" width="57" height="19" fill="#6b6b6b" stroke="#8a8a8a"/>
<text x="1536" y="746" font-size="11.5" fill="#ff1a1a" text-anchor="middle" textLength="46" lengthAdjust="spacingAndGlyphs">MACD off</text>

<!-- frames -->
<g fill="none" stroke="#000" stroke-width="1">
<line x1="2.5" y1="2.5" x2="1606.5" y2="2.5"/>
<line x1="2.5" y1="2.5" x2="2.5" y2="752"/>
<line x1="1606.5" y1="2.5" x2="1606.5" y2="752"/>
<line x1="2.5" y1="585.5" x2="1606.5" y2="585.5"/>
<line x1="2.5" y1="588.5" x2="1606.5" y2="588.5"/>
<line x1="2.5" y1="751.5" x2="1606.5" y2="751.5" stroke-dasharray="2,2"/>
</g>

<!-- price axis -->
<path stroke="#000" stroke-width="1" d="M1606.5 7.5h3M1606.5 41.5h3M1606.5 75.5h3M1606.5 108.5h3M1606.5 142.5h3M1606.5 176.5h3M1606.5 210.5h3M1606.5 244.5h3M1606.5 278.5h3M1606.5 311.5h3M1606.5 345.5h3M1606.5 379.5h3M1606.5 413.5h3M1606.5 446.5h3M1606.5 480.5h3M1606.5 514.5h3M1606.5 548.5h3M1606.5 582.5h3M1606.5 628.5h3M1606.5 675.5h3M1606.5 722.5h3"/>
<g font-size="10.5" fill="#000">
<text x="1611.5" y="11" textLength="33" lengthAdjust="spacingAndGlyphs">0.72010</text>
<text x="1611.5" y="44.8" textLength="33" lengthAdjust="spacingAndGlyphs">0.71920</text>
<text x="1611.5" y="78.6" textLength="33" lengthAdjust="spacingAndGlyphs">0.71830</text>
<text x="1611.5" y="112.4" textLength="33" lengthAdjust="spacingAndGlyphs">0.71740</text>
<text x="1611.5" y="146.2" textLength="33" lengthAdjust="spacingAndGlyphs">0.71650</text>
<text x="1611.5" y="180" textLength="33" lengthAdjust="spacingAndGlyphs">0.71560</text>
<text x="1611.5" y="213.8" textLength="33" lengthAdjust="spacingAndGlyphs">0.71470</text>
<text x="1611.5" y="247.6" textLength="33" lengthAdjust="spacingAndGlyphs">0.71380</text>
<text x="1611.5" y="281.4" textLength="33" lengthAdjust="spacingAndGlyphs">0.71290</text>
<text x="1611.5" y="315.2" textLength="33" lengthAdjust="spacingAndGlyphs">0.71200</text>
<text x="1611.5" y="349" textLength="33" lengthAdjust="spacingAndGlyphs">0.71110</text>
<text x="1611.5" y="382.8" textLength="33" lengthAdjust="spacingAndGlyphs">0.71020</text>
<text x="1611.5" y="416.6" textLength="33" lengthAdjust="spacingAndGlyphs">0.70930</text>
<text x="1611.5" y="450.4" textLength="33" lengthAdjust="spacingAndGlyphs">0.70840</text>
<text x="1611.5" y="484.2" textLength="33" lengthAdjust="spacingAndGlyphs">0.70750</text>
<text x="1611.5" y="518" textLength="33" lengthAdjust="spacingAndGlyphs">0.70660</text>
<text x="1611.5" y="551.8" textLength="33" lengthAdjust="spacingAndGlyphs">0.70570</text>
<text x="1611.5" y="585.6" textLength="33" lengthAdjust="spacingAndGlyphs">0.70480</text>
</g>
<!-- current price boxes -->
<rect x="1607" y="108.5" width="43" height="12" fill="#ff0000"/>
<text x="1611.5" y="118" font-size="10.5" fill="#fff" textLength="33" lengthAdjust="spacingAndGlyphs">0.71722</text>
<rect x="1607" y="113.5" width="39" height="11.5" fill="#000"/>
<text x="1611" y="123" font-size="10.5" fill="#fff" textLength="33" lengthAdjust="spacingAndGlyphs">0.71713</text>

<!-- subwindow axis labels -->
<g font-size="10.5" fill="#000">
<text x="1610.5" y="598.5" textLength="43" lengthAdjust="spacingAndGlyphs">182.29738</text>
<text x="1610" y="632" textLength="15" lengthAdjust="spacingAndGlyphs">100</text>
<text x="1609.5" y="679" textLength="19" lengthAdjust="spacingAndGlyphs">0.00</text>
<text x="1609" y="726" textLength="19" lengthAdjust="spacingAndGlyphs">-100</text>
<text x="1610.5" y="748.5" textLength="41" lengthAdjust="spacingAndGlyphs">-161.5783</text>
</g>

<!-- time axis -->
<path stroke="#000" stroke-width="1" d="M3.5 752v4M67.5 752v4M131.5 752v4M195.5 752v4M259.5 752v4M323.5 752v4M387.5 752v4M451.5 752v4M515.5 752v4M579.5 752v4M643.5 752v4M707.5 752v4M771.5 752v4M835.5 752v4M899.5 752v4M963.5 752v4M1027.5 752v4M1091.5 752v4M1155.5 752v4M1219.5 752v4M1283.5 752v4"/>
<g font-size="10.5" fill="#000">
<text x="3.5" y="766" textLength="46" lengthAdjust="spacingAndGlyphs">1 Feb 2022</text>
<text x="67" y="766" textLength="49" lengthAdjust="spacingAndGlyphs">1 Feb 19:00</text>
<text x="131" y="766" textLength="49" lengthAdjust="spacingAndGlyphs">2 Feb 03:00</text>
<text x="195" y="766" textLength="49" lengthAdjust="spacingAndGlyphs">2 Feb 11:00</text>
<text x="259" y="766" textLength="49" lengthAdjust="spacingAndGlyphs">2 Feb 19:00</text>
<text x="323" y="766" textLength="49" lengthAdjust="spacingAndGlyphs">3 Feb 03:00</text>
<text x="387" y="766" textLength="49" lengthAdjust="spacingAndGlyphs">3 Feb 11:00</text>
<text x="451" y="766" textLength="49" lengthAdjust="spacingAndGlyphs">3 Feb 19:00</text>
<text x="515" y="766" textLength="49" lengthAdjust="spacingAndGlyphs">4 Feb 03:00</text>
<text x="579" y="766" textLength="49" lengthAdjust="spacingAndGlyphs">4 Feb 11:00</text>
<text x="643" y="766" textLength="49" lengthAdjust="spacingAndGlyphs">4 Feb 19:00</text>
<text x="707" y="766" textLength="49" lengthAdjust="spacingAndGlyphs">7 Feb 02:00</text>
<text x="771" y="766" textLength="49" lengthAdjust="spacingAndGlyphs">7 Feb 10:00</text>
<text x="835" y="766" textLength="49" lengthAdjust="spacingAndGlyphs">7 Feb 18:00</text>
<text x="899" y="766" textLength="49" lengthAdjust="spacingAndGlyphs">8 Feb 02:00</text>
<text x="963" y="766" textLength="49" lengthAdjust="spacingAndGlyphs">8 Feb 10:00</text>
<text x="1027" y="766" textLength="49" lengthAdjust="spacingAndGlyphs">8 Feb 18:00</text>
<text x="1091" y="766" textLength="49" lengthAdjust="spacingAndGlyphs">9 Feb 02:00</text>
<text x="1155" y="766" textLength="49" lengthAdjust="spacingAndGlyphs">9 Feb 10:00</text>
<text x="1219" y="766" textLength="49" lengthAdjust="spacingAndGlyphs">9 Feb 18:00</text>
<text x="1283" y="766" textLength="54" lengthAdjust="spacingAndGlyphs">10 Feb 02:00</text>
</g>
</svg>
</body></html>
